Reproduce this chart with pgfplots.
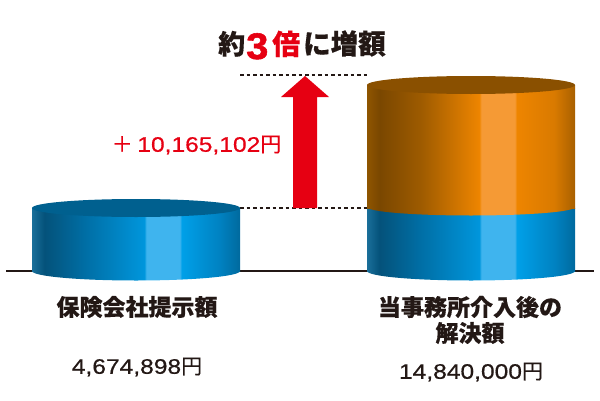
\documentclass[border=0pt]{standalone}
\usepackage{pgfplots}
\pgfplotsset{compat=1.18}
\usepackage{fontspec}
\setmainfont{Noto Sans CJK JP}[BoldFeatures={FakeBold=0.4}]
\newfontfamily\num{Liberation Sans}[FakeBold=0.6,FakeStretch=1.17]
\newfontfamily\numb{Liberation Sans}[BoldFeatures={FakeBold=1.5,FakeStretch=1.08}]
\newfontfamily\jpn{Noto Sans CJK JP}[FakeBold=0.3]
\definecolor{ink}{HTML}{231815}
\definecolor{arrowred}{HTML}{E60012}
\definecolor{bluetop}{HTML}{00608F}
\definecolor{orangetop}{HTML}{8A5000}
\definecolor{BLa}{HTML}{1A6F9A}
\definecolor{BLb}{HTML}{04527A}
\definecolor{BLc}{HTML}{006FA6}
\definecolor{BLd}{HTML}{0096DC}
\definecolor{BLe}{HTML}{3FB4EE}
\definecolor{BLf}{HTML}{00A0E8}
\definecolor{BLg}{HTML}{0082C2}
\definecolor{BLh}{HTML}{006A9E}
\definecolor{ORa}{HTML}{8F5500}
\definecolor{ORb}{HTML}{7A4700}
\definecolor{ORc}{HTML}{9E5B00}
\definecolor{ORd}{HTML}{EE8500}
\definecolor{ORe}{HTML}{F59A35}
\definecolor{ORf}{HTML}{EE8500}
\definecolor{ORg}{HTML}{D97A00}
\definecolor{ORh}{HTML}{A86000}
% stops: 25bp = left edge of the cylinder, 75bp = right edge
\pgfdeclarehorizontalshading{blueside}{100bp}{
  color(0bp)=(BLa); color(25bp)=(BLa); color(28bp)=(BLb); color(38bp)=(BLc);
  color(52bp)=(BLd); color(52.5bp)=(BLe); color(60.5bp)=(BLe); color(61bp)=(BLf);
  color(70bp)=(BLg); color(75bp)=(BLh); color(100bp)=(BLh)}
\pgfdeclarehorizontalshading{orangeside}{100bp}{
  color(0bp)=(ORa); color(25bp)=(ORa); color(28bp)=(ORb); color(38bp)=(ORc);
  color(52bp)=(ORd); color(52.5bp)=(ORe); color(60.5bp)=(ORe); color(61bp)=(ORf);
  color(70bp)=(ORg); color(75bp)=(ORh); color(100bp)=(ORh)}
\newcommand{\fs}[1]{\fontsize{#1bp}{#1bp}\selectfont}
\begin{document}
\begin{tikzpicture}
\begin{axis}[
    scale only axis,
    width=600bp, height=400bp,
    xmin=0, xmax=600,
    ymin=-129, ymax=271,
    hide axis,
    clip=false,
    ybar stacked,
    reverse stacked plots=false,
    bar width=208,
]
\path[use as bounding box] (rel axis cs:0,0) rectangle (rel axis cs:1,1);

% baseline
\addplot[stack plots=false, sharp plot, no marks, ink, line width=1.5bp]
    coordinates {(6,0)(594,0)};
% dashed guides
\addplot[stack plots=false, sharp plot, no marks, ink, line width=1.4bp, dash pattern=on 3.5bp off 3bp]
    coordinates {(240,63)(368,63)};
\addplot[stack plots=false, sharp plot, no marks, ink, line width=1.4bp, dash pattern=on 3.5bp off 3bp]
    coordinates {(240,196)(368,196)};

% cylinder bottoms
\path[shading=blueside] (axis cs:136,0) ellipse [x radius=104bp, y radius=9.5bp];
\path[shading=blueside] (axis cs:471,0) ellipse [x radius=104bp, y radius=9.5bp];

% heights in picture units above the baseline
\addplot[stack plots=false, shading=blueside, draw=none] coordinates {(136,63)};
\addplot[shading=blueside, draw=none] coordinates {(471,63)};
\addplot[shading=orangeside, draw=none] coordinates {(471,123)};
\path[shading=orangeside] (axis cs:471,64) ellipse [x radius=104bp, y radius=8.5bp];

% cylinder tops
\fill[bluetop] (axis cs:136,63) ellipse [x radius=104bp, y radius=9bp];
\fill[orangetop] (axis cs:471,186) ellipse [x radius=104bp, y radius=9bp];

% arrow
\addplot[stack plots=false, sharp plot, no marks, fill=arrowred, draw=none]
    coordinates {(293,63)(317,63)(317,174)(329,174)(305,195)(281,174)(293,174)} --cycle;

% title
\node[anchor=base west, text=ink, inner sep=0pt] at (axis cs:218,217) {\fs{27}\bfseries 約};
\node[anchor=base west, text=arrowred, inner sep=0pt] at (axis cs:246,212) {\fs{37}\bfseries\numb 3};
\node[anchor=base west, text=arrowred, inner sep=0pt] at (axis cs:272,216.5) {\fs{28}\bfseries 倍};
\node[anchor=base west, text=ink, inner sep=0pt] at (axis cs:303,217) {\fs{27.5}\bfseries に増額};

\node[anchor=center, text=arrowred, inner sep=0pt] at (axis cs:196.5,126) {\fs{21}{\jpn ＋} \num 10,165,102{\jpn 円}};

\node[anchor=center, text=ink, inner sep=0pt] at (axis cs:137,-36) {\fs{23}\bfseries 保険会社提示額};
\node[anchor=center, text=ink, inner sep=0pt] at (axis cs:470,-36) {\fs{23}\bfseries 当事務所介入後の};
\node[anchor=center, text=ink, inner sep=0pt] at (axis cs:470,-62) {\fs{23}\bfseries 解決額};
\node[anchor=center, text=ink, inner sep=0pt] at (axis cs:137,-96) {\fs{21}\num 4,674,898{\jpn 円}};
\node[anchor=center, text=ink, inner sep=0pt] at (axis cs:471,-101) {\fs{21}\num 14,840,000{\jpn 円}};
\end{axis}
\end{tikzpicture}
\end{document}
